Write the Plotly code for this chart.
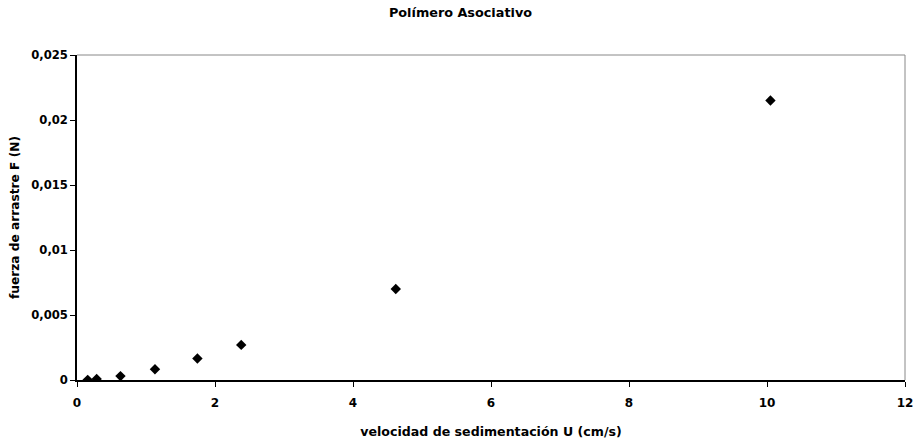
import plotly.graph_objects as go

velocidad = [0.155, 0.285, 0.63, 1.13, 1.745, 2.38, 4.62, 10.05]
fuerza = [0.00001, 0.00008, 0.0003, 0.00083, 0.00165, 0.0027, 0.0070, 0.0215]

font_family = "DejaVu Sans, Verdana, sans-serif"

fig = go.Figure()
fig.add_trace(go.Scatter(
    x=velocidad, y=fuerza, mode="markers",
    marker=dict(symbol="diamond", size=8, color="black"),
    showlegend=False,
))

fig.update_layout(
    width=921, height=443,
    paper_bgcolor="white", plot_bgcolor="white",
    separators=",.",
    margin=dict(l=77, r=16, t=55, b=63),
    title=dict(text="<b>Polímero Asociativo</b>", x=0.5, xanchor="center",
               y=0.9707, yanchor="middle",
               font=dict(family=font_family, size=12.8, color="black")),
    font=dict(family=font_family, color="black"),
)
fig.update_xaxes(
    range=[0, 12], dtick=2, tick0=0, automargin=False,
    showgrid=False, zeroline=False,
    showline=True, linecolor="black", linewidth=1.5,
    ticks="outside", ticklen=5, tickcolor="black", ticklabelstandoff=6,
    tickfont=dict(family=font_family, size=12, color="black"),
    tickprefix="<b>", ticksuffix="</b>",
    title=dict(text="<b>velocidad de sedimentación U (cm/s)</b>",
               font=dict(family=font_family, size=12.6, color="black"), standoff=18),
)
fig.update_yaxes(
    range=[0, 0.025], dtick=0.005, tick0=0, automargin=False,
    showgrid=False, zeroline=False,
    showline=True, linecolor="black", linewidth=1.5,
    ticks="outside", ticklen=5, tickcolor="black",
    tickfont=dict(family=font_family, size=11.6, color="black"),
    tickprefix="<b>", ticksuffix="</b>",
    title=dict(text="<b>fuerza de arrastre F (N)</b>",
               font=dict(family=font_family, size=12.2, color="black"), standoff=9),
)
fig.add_shape(type="line", xref="paper", yref="paper", x0=0, x1=1, y0=1, y1=1,
              line=dict(color="#888888", width=1))
fig.add_shape(type="line", xref="paper", yref="paper", x0=1, x1=1, y0=0, y1=1,
              line=dict(color="#888888", width=1))

fig.write_html("out.html", config={"displayModeBar": False},
               post_script="document.body.style.margin='0';")
